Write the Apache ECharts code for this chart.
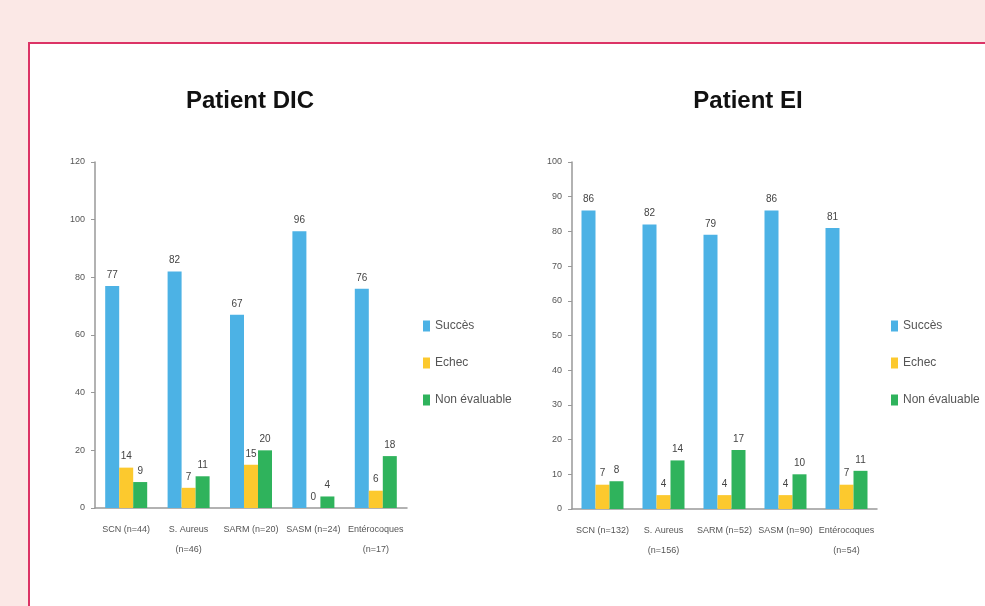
<!DOCTYPE html>
<html>
<head>
<meta charset="utf-8">
<script src="https://cdn.jsdelivr.net/npm/echarts@6/dist/echarts.min.js"></script>
<style>
  html, body { margin: 0; padding: 0; background: #fbe8e6; overflow: hidden; }
  #frame {
    position: absolute; left: 28px; top: 42px; width: 1000px; height: 600px;
    background: #fff; border: 2px solid #dc3366; box-sizing: border-box;
  }
  #chart { position: absolute; left: 0; top: 0; width: 985px; height: 606px; }
</style>
</head>
<body>
<div id="frame"></div>
<div id="chart"></div>
<script>
// données
const seriesNames = ['Succès', 'Echec', 'Non évaluable']
const dicCategories = ['SCN (n=44)', 'S. Aureus\n(n=46)', 'SARM (n=20)', 'SASM (n=24)', 'Entérocoques\n(n=17)']
const dicSucces = [77, 82, 67, 96, 76]
const dicEchec = [14, 7, 15, 0, 6]
const dicNonEval = [9, 11, 20, 4, 18]
const eiCategories = ['SCN (n=132)', 'S. Aureus\n(n=156)', 'SARM (n=52)', 'SASM (n=90)', 'Entérocoques\n(n=54)']
const eiSucces = [86, 82, 79, 86, 81]
const eiEchec = [7, 4, 4, 4, 7]
const eiNonEval = [8, 14, 17, 10, 11]

const colors = ['#4cb2e5', '#fcc92e', '#2fb35c']
const font = "'Liberation Sans Narrow', 'Arial Narrow', 'Liberation Sans', sans-serif"

var myChart = echarts.init(document.getElementById('chart'), null, { renderer: 'canvas' })

function barSeries(name, data, idx, color) {
  return {
    name: name,
    type: 'bar',
    xAxisIndex: idx,
    yAxisIndex: idx,
    data: data,
    barWidth: 14,
    barGap: '0%',
    itemStyle: { color: color },
    label: { show: true, position: 'top', distance: 6, fontSize: 10, color: '#444', fontFamily: font }
  }
}

function legendAt(left) {
  return {
    orient: 'vertical',
    left: left,
    top: 315,
    itemWidth: 7,
    itemHeight: 11,
    itemGap: 25,
    icon: 'rect',
    data: seriesNames,
    textStyle: { fontSize: 12, color: '#555', fontFamily: font }
  }
}

const axisLine = { lineStyle: { color: '#999', width: 1.5 } }
const xLabel = { interval: 0, fontSize: 9, color: '#555', margin: 12, lineHeight: 20, fontFamily: font }

var option = {
  animation: false,
  color: colors,
  title: [
    { text: 'Patient DIC', left: 245, top: 84, textAlign: 'center',
      textStyle: { fontSize: 24, fontWeight: 'bold', color: '#111', fontFamily: font } },
    { text: 'Patient EI', left: 743, top: 84, textAlign: 'center',
      textStyle: { fontSize: 24, fontWeight: 'bold', color: '#111', fontFamily: font } }
  ],
  legend: [legendAt(418), legendAt(886)],
  grid: [
    { left: 95, top: 162, width: 312, height: 346 },
    { left: 572, top: 162, width: 305, height: 347 }
  ],
  xAxis: [
    { type: 'category', gridIndex: 0, data: dicCategories, axisLine: axisLine,
      axisTick: { length: 5, lineStyle: { color: '#999' } }, axisLabel: xLabel },
    { type: 'category', gridIndex: 1, data: eiCategories, axisLine: axisLine,
      axisTick: { length: 5, lineStyle: { color: '#999' } }, axisLabel: xLabel }
  ],
  yAxis: [
    { type: 'value', gridIndex: 0, min: 0, max: 120, interval: 20,
      axisLine: { show: true, lineStyle: { color: '#999', width: 1.5 } },
      axisTick: { show: true, length: 4, lineStyle: { color: '#999' } },
      splitLine: { show: false },
      axisLabel: { fontSize: 9, color: '#555', margin: 10, fontFamily: font } },
    { type: 'value', gridIndex: 1, min: 0, max: 100, interval: 10,
      axisLine: { show: true, lineStyle: { color: '#999', width: 1.5 } },
      axisTick: { show: true, length: 4, lineStyle: { color: '#999' } },
      splitLine: { show: false },
      axisLabel: { fontSize: 9, color: '#555', margin: 10, fontFamily: font } }
  ],
  series: [
    barSeries('Succès', dicSucces, 0, colors[0]),
    barSeries('Echec', dicEchec, 0, colors[1]),
    barSeries('Non évaluable', dicNonEval, 0, colors[2]),
    barSeries('Succès', eiSucces, 1, colors[0]),
    barSeries('Echec', eiEchec, 1, colors[1]),
    barSeries('Non évaluable', eiNonEval, 1, colors[2])
  ]
}

myChart.setOption(option)
</script>
</body>
</html>
